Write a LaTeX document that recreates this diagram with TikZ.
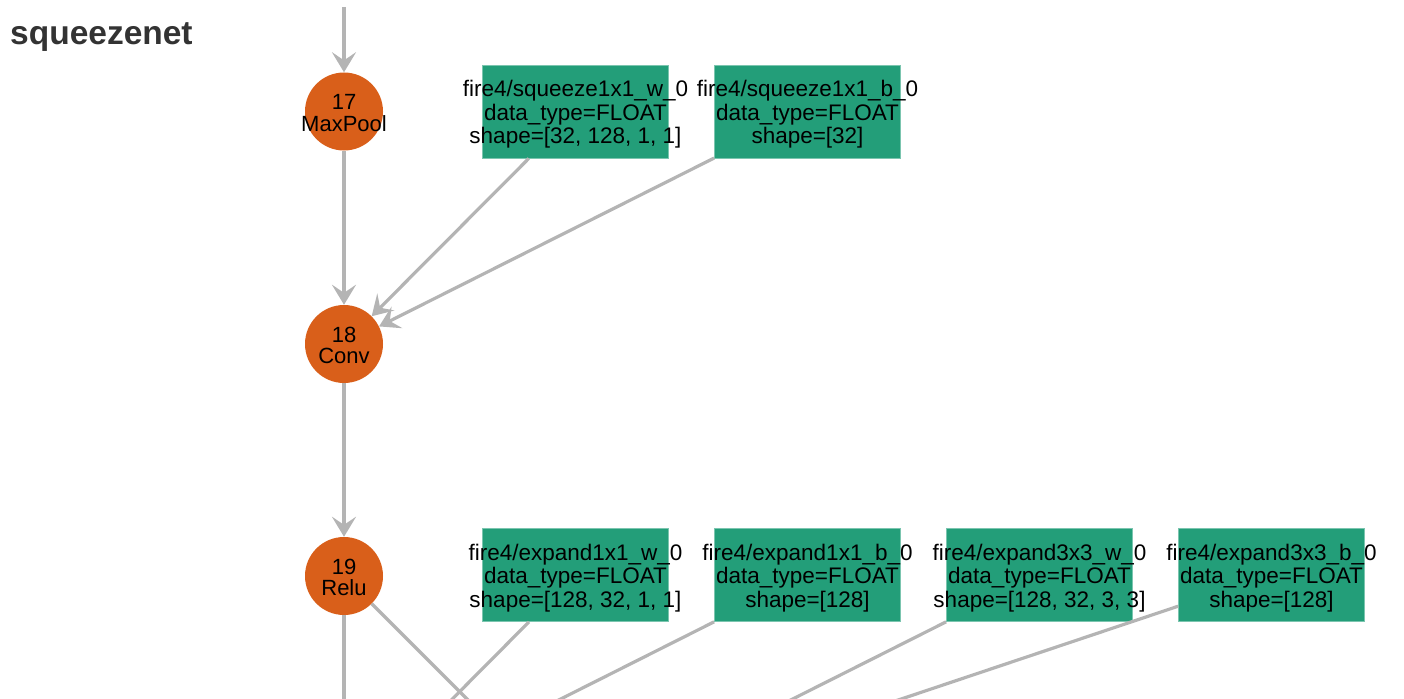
\documentclass[tikz,border=0pt]{standalone}
\usepackage{fontspec}
\setmainfont{Liberation Sans}
\usetikzlibrary{arrows.meta}
\definecolor{opnode}{HTML}{D95F1A}
\definecolor{initnode}{HTML}{239E79}
\definecolor{edgegray}{HTML}{B4B4B4}
\definecolor{titlegray}{HTML}{333333}
\begin{document}
\begin{tikzpicture}[x=1pt,y=-1pt,
  op/.style={circle, fill=opnode, minimum size=78pt, inner sep=0pt},
  optext/.style={align=center, inner sep=0pt, text=black, yshift=-1.5pt, font=\fontsize{22}{21.5}\selectfont},
  init/.style={rectangle, fill=initnode, draw=initnode!60!white, line width=0.8pt, minimum width=186pt, minimum height=93pt, inner sep=0pt},
  inittext/.style={align=center, inner sep=0pt, text=black, yshift=-3pt, font=\fontsize{22.5}{23.5}\selectfont},
  edge/.style={draw=edgegray, line width=3.2pt},
  arr/.style={edge, -{Stealth[length=20pt,width=24pt,inset=8pt]}}
]
\useasboundingbox (0,0) rectangle (1404,698);
\clip (0,0) rectangle (1404,698);

\node[anchor=base west, inner sep=0pt, text=titlegray, font=\fontsize{33.5}{33.5}\selectfont\bfseries] (title) at (10,44.5) {squeezenet};

% operator nodes
\node[op, label={[optext]center:{17\\MaxPool}}] (n17) at (344,111.5) {};
\node[op, label={[optext]center:{18\\Conv}}] (n18) at (344,344) {};
\node[op, label={[optext]center:{19\\Relu}}] (n19) at (344,576) {};

% initializer nodes
\node[init, label={[inittext]center:{fire4/squeeze1x1\_w\_0\\data\_type=FLOAT\\shape=[32, 128, 1, 1]}}] (b1) at (575.5,111.5) {};
\node[init, label={[inittext]center:{fire4/squeeze1x1\_b\_0\\data\_type=FLOAT\\shape=[32]}}] (b2) at (807.5,111.5) {};
\node[init, label={[inittext]center:{fire4/expand1x1\_w\_0\\data\_type=FLOAT\\shape=[128, 32, 1, 1]}}] (b3) at (575.5,575) {};
\node[init, label={[inittext]center:{fire4/expand1x1\_b\_0\\data\_type=FLOAT\\shape=[128]}}] (b4) at (807.5,575) {};
\node[init, label={[inittext]center:{fire4/expand3x3\_w\_0\\data\_type=FLOAT\\shape=[128, 32, 3, 3]}}] (b5) at (1039.5,575) {};
\node[init, label={[inittext]center:{fire4/expand3x3\_b\_0\\data\_type=FLOAT\\shape=[128]}}] (b6) at (1271.5,575) {};

% free ends
\coordinate (in17) at (344,7);
\coordinate (c20) at (344,808);
\coordinate (c22) at (576,808);

% connectors
\draw[arr] (in17) -- (n17);
\draw[arr] (n17) -- (n18);
\draw[arr] (b1) -- (n18);
\draw[arr] (b2) -- (n18);
\draw[arr] (n18) -- (n19);
\draw[edge] (n19) -- (c20);
\draw[edge] (n19) -- (c22);
\draw[edge] (b3) -- (c20);
\draw[edge] (b4) -- (c20);
\draw[edge] (b5) -- (c22);
\draw[edge] (b6) -- (c22);
\end{tikzpicture}
\end{document}
